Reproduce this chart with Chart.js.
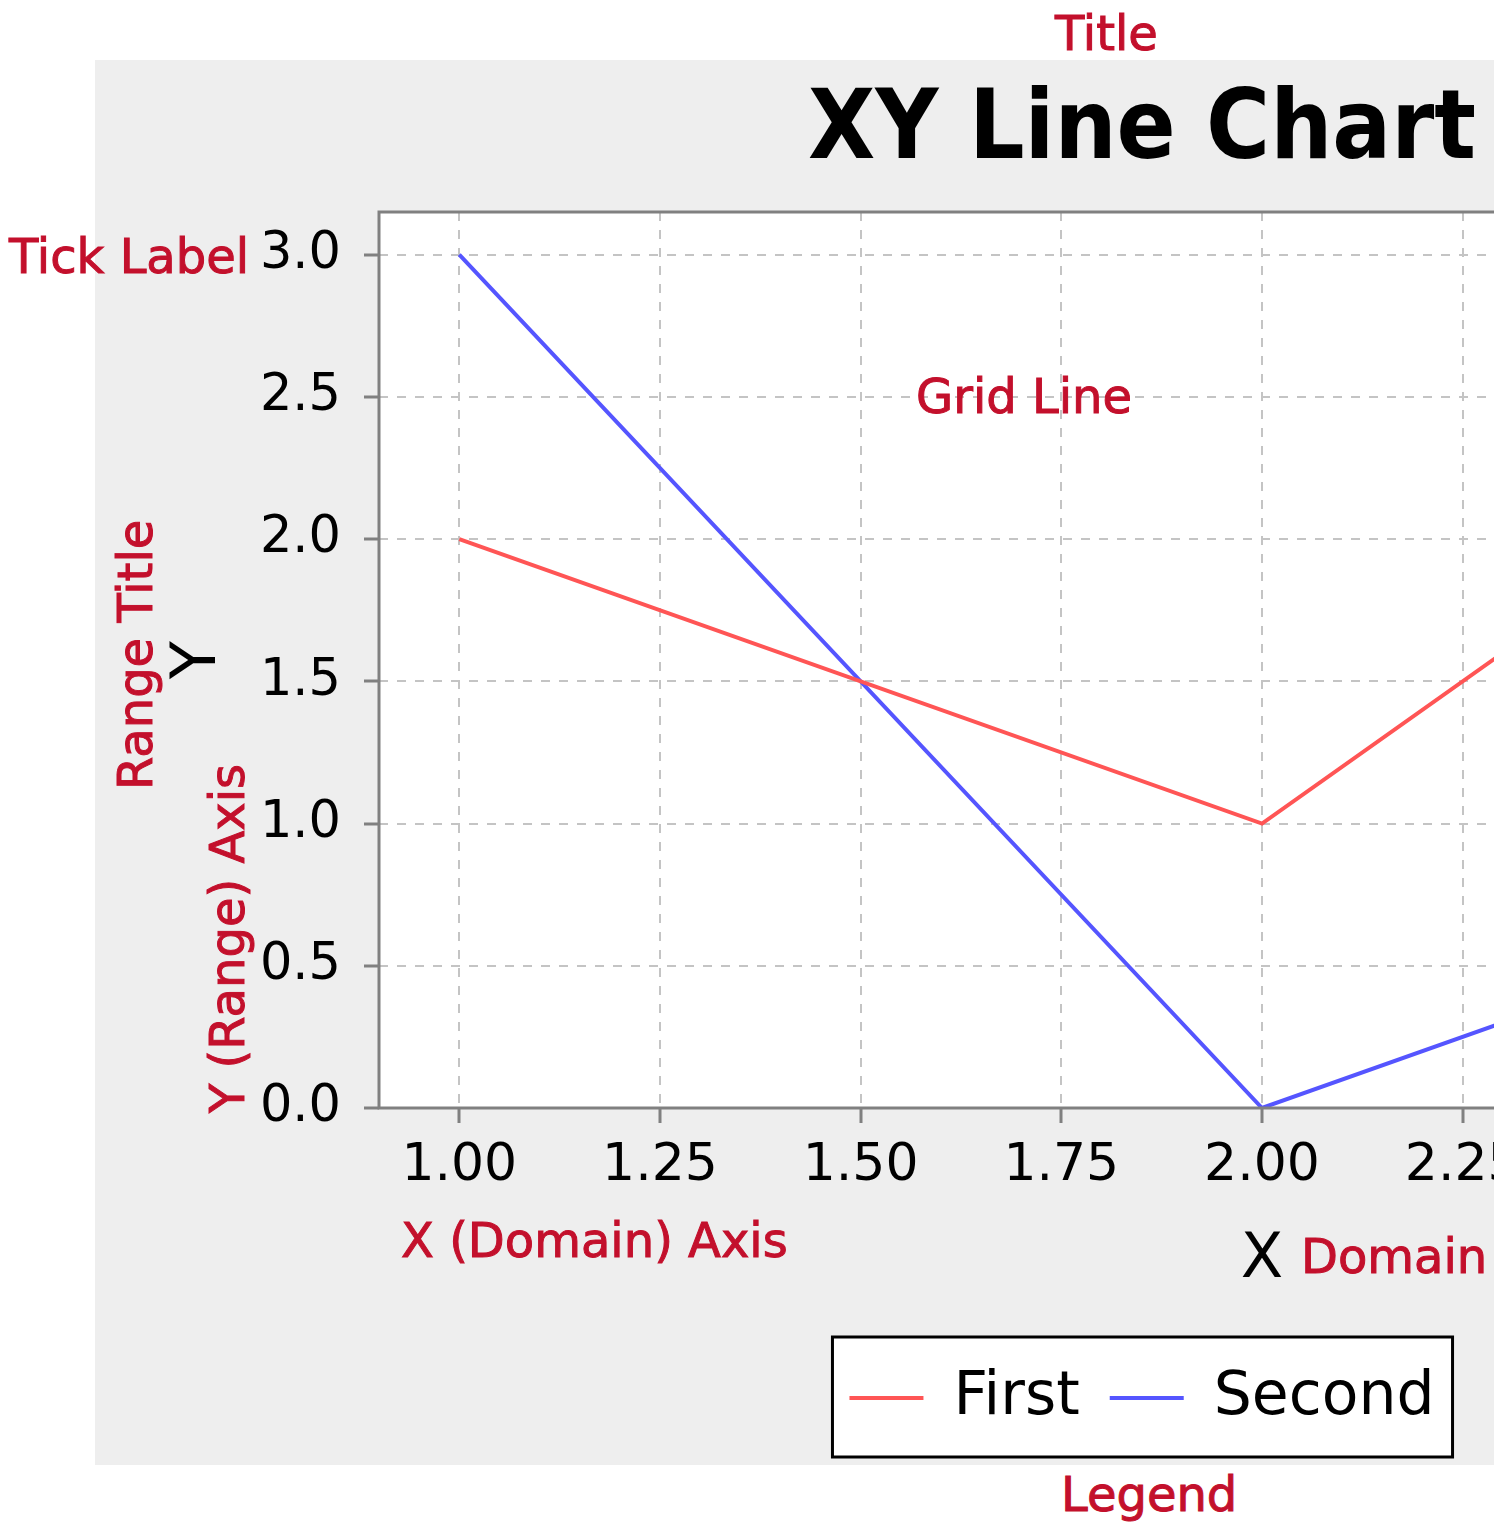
<!DOCTYPE html>
<html>
<head>
  <title>XY Line Chart</title>
  <script src="https://cdn.jsdelivr.net/npm/chart.js"></script>
  <style>
    html, body { margin: 0; padding: 0; background: #fff; overflow: hidden; }
    #wrap { position: relative; width: 1494px; height: 1522px; overflow: hidden; }
    #myChart { position: absolute; left: 95px; top: 60px; }
    .note { position: absolute; font-family: 'DejaVu Sans', sans-serif; font-size: 48px; line-height: 48px; color: #c3102c; white-space: nowrap; -webkit-text-stroke: 1px #c3102c; }
    .up { transform: rotate(-90deg); transform-origin: 0 0; }
  </style>
</head>
<body>
<div id="wrap">
  <canvas id="myChart" width="2050" height="1405"></canvas>
  <div class="note" style="left:1055px; top:9px">Title</div>
  <div class="note" style="left:9px; top:232px">Tick Label</div>
  <div class="note" style="left:916px; top:372px">Grid Line</div>
  <div class="note up" style="left:111px; top:790px">Range Title</div>
  <div class="note up" style="left:203px; top:1113px">Y (Range) Axis</div>
  <div class="note" style="left:401px; top:1216px">X (Domain) Axis</div>
  <div class="note" style="left:1301px; top:1232px">Domain Title</div>
  <div class="note" style="left:1061px; top:1470px">Legend</div>
</div>

<script>
  // series data
  const xValues = [1, 2, 3];
  const firstValues = [2, 1, 3];
  const secondValues = [3, 0, 1];
  const xTicks = [1, 1.25, 1.5, 1.75, 2, 2.25, 2.5, 2.75, 3];
  const yTicks = [0, 0.5, 1, 1.5, 2, 2.5, 3];

  Chart.defaults.font.family = "'DejaVu Sans', sans-serif";

  // gray background, white plot, legend frame and plot outline
  const panel = {
    id: 'panel',
    beforeDraw(chart) {
      const { ctx, chartArea: a, legend } = chart;
      ctx.save();
      ctx.fillStyle = '#eeeeee';
      ctx.fillRect(0, 0, chart.width, chart.height);
      ctx.fillStyle = '#ffffff';
      ctx.fillRect(a.left, a.top, a.right - a.left, a.bottom - a.top);
      const hb = legend.legendHitBoxes;
      if (hb && hb.length) {
        const l = Math.min(...hb.map(h => h.left)) - 17;
        const r = Math.max(...hb.map(h => h.left + h.width)) + 18;
        const t = hb[0].top - 31;
        ctx.fillRect(l, t, r - l, 120);
        ctx.lineWidth = 3;
        ctx.strokeStyle = '#000';
        ctx.strokeRect(l, t, r - l, 120);
      }
      ctx.restore();
    },
    afterDatasetsDraw(chart) {
      const { ctx, chartArea: a } = chart;
      ctx.save();
      ctx.lineWidth = 3;
      ctx.strokeStyle = '#808080';
      ctx.strokeRect(a.left, a.top, a.right - a.left, a.bottom - a.top);
      ctx.restore();
    }
  };

  const gridOpts = {
    color: '#c4c4c4',
    lineWidth: 2,
    tickLength: 15,
    tickColor: '#808080',
    tickWidth: 3,
    tickBorderDash: []
  };

  new Chart(document.getElementById('myChart').getContext('2d'), {
    type: 'line',
    data: {
      datasets: [{
        label: 'First',
        data: xValues.map((x, i) => ({ x: x, y: firstValues[i] })),
        borderColor: '#ff5555',
        backgroundColor: '#ff5555',
        borderWidth: 4,
        pointRadius: 0,
        tension: 0,
        fill: false
      }, {
        label: 'Second',
        data: xValues.map((x, i) => ({ x: x, y: secondValues[i] })),
        borderColor: '#5555ff',
        backgroundColor: '#5555ff',
        borderWidth: 4,
        pointRadius: 0,
        tension: 0,
        fill: false
      }]
    },
    options: {
      responsive: false,
      animation: false,
      events: [],
      layout: { padding: { left: 44, right: 0, top: 0, bottom: 27 } },
      scales: {
        x: {
          type: 'linear',
          min: 0.9,
          max: 3.1,
          afterBuildTicks: s => { s.ticks = xTicks.map(v => ({ value: v })); },
          afterFit: s => { s.height = 230; },
          ticks: {
            autoSkip: false, maxRotation: 0, padding: 12, color: '#000',
            font: { size: 52 },
            callback: v => Number(v).toFixed(2)
          },
          grid: gridOpts,
          border: { display: false, dash: [9, 9] },
          title: {
            display: true, text: 'X', color: '#000',
            font: { size: 62, lineHeight: 1 },
            padding: { top: 0, bottom: 46 }
          }
        },
        y: {
          type: 'linear',
          min: 0,
          max: 3.15,
          afterBuildTicks: s => { s.ticks = yTicks.map(v => ({ value: v })); },
          afterFit: s => { s.width = 240; },
          ticks: {
            padding: 23, color: '#000',
            font: { size: 51 },
            callback: v => Number(v).toFixed(1)
          },
          grid: gridOpts,
          border: { display: false, dash: [9, 9] },
          title: {
            display: true, text: 'Y', color: '#000',
            font: { size: 62, lineHeight: 1 },
            padding: { top: 29, bottom: 0 }
          }
        }
      },
      plugins: {
        title: {
          display: true,
          text: 'XY Line Chart',
          color: '#000',
          font: { family: "'DejaVu Sans Condensed', 'DejaVu Sans', sans-serif", size: 97, weight: 'bold', lineHeight: 1 },
          padding: { top: 24.5, bottom: 30.5 }
        },
        legend: {
          position: 'bottom',
          labels: {
            usePointStyle: true,
            pointStyle: 'line',
            pointStyleWidth: 74,
            padding: 30,
            color: '#000',
            font: { size: 60 }
          }
        },
        tooltip: { enabled: false }
      }
    },
    plugins: [panel]
  });
</script>
</body>
</html>
